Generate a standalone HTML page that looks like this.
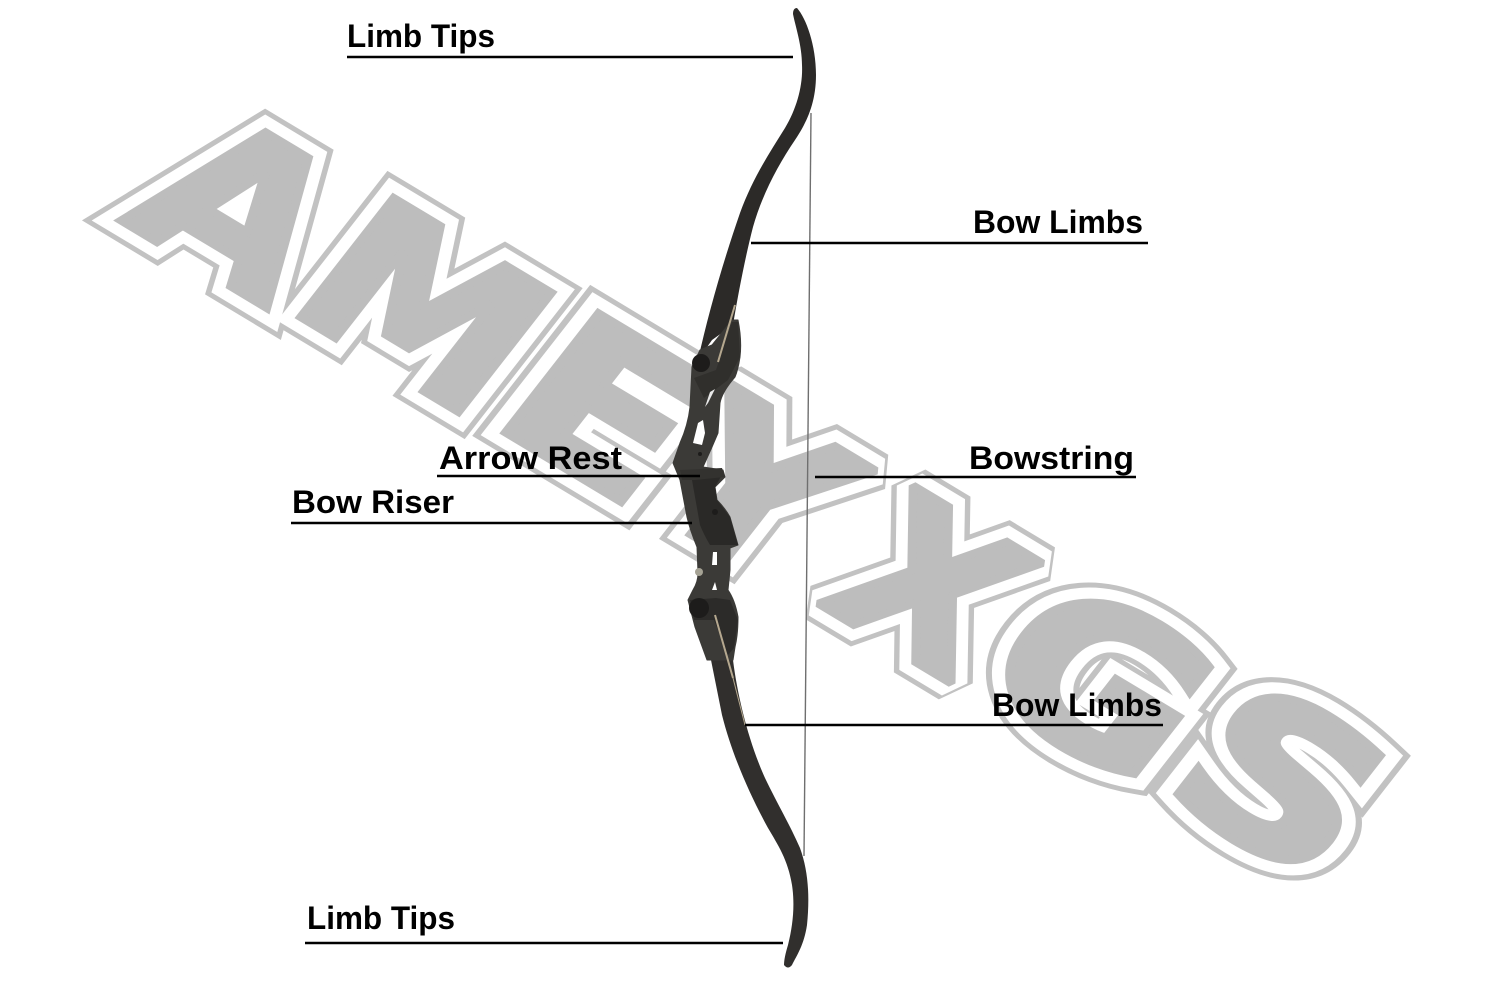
<!DOCTYPE html>
<html>
<head>
<meta charset="utf-8">
<title>Recurve Bow Parts</title>
<style>
html,body{margin:0;padding:0;background:#fff;}
svg{display:block;}
.wm text{font-family:"DejaVu Sans",sans-serif;font-weight:700;font-size:206px;text-anchor:middle;stroke-linejoin:miter;stroke-miterlimit:2;}
.l{font-family:"Liberation Sans",sans-serif;font-weight:700;font-size:32px;fill:#000;}
</style>
</head>
<body>
<svg width="1500" height="1000" viewBox="0 0 1500 1000" xmlns="http://www.w3.org/2000/svg">
<rect width="1500" height="1000" fill="#fff"/>

<!-- Watermark: outline layer -->
<g class="wm" transform="rotate(30)" fill="#c2c2c2" stroke="#c2c2c2" stroke-width="40">
<text transform="translate(300,132) rotate(1) skewX(-7) scale(1.08,1)">A</text>
<text transform="translate(511,126) rotate(1) skewX(-7) scale(1.1,1)">M</text>
<text transform="translate(719,123) rotate(1) skewX(-7) scale(1.25,1)">E</text>
<text transform="translate(887,118) rotate(1) skewX(-7) scale(1.12,1)">Y</text>
<text transform="translate(1088,115) rotate(1) skewX(-7) scale(1.03,1)">X</text>
<text transform="translate(1284,113) rotate(1) skewX(-7) scale(1.2,1)">G</text>
<text transform="translate(1490,108) rotate(1) skewX(-7) scale(1.26,1)">S</text>
</g>
<!-- Watermark: white gap layer -->
<g class="wm" transform="rotate(30)" fill="#fff" stroke="#fff" stroke-width="30">
<text transform="translate(300,132) rotate(1) skewX(-7) scale(1.08,1)">A</text>
<text transform="translate(511,126) rotate(1) skewX(-7) scale(1.1,1)">M</text>
<text transform="translate(719,123) rotate(1) skewX(-7) scale(1.25,1)">E</text>
<text transform="translate(887,118) rotate(1) skewX(-7) scale(1.12,1)">Y</text>
<text transform="translate(1088,115) rotate(1) skewX(-7) scale(1.03,1)">X</text>
<text transform="translate(1284,113) rotate(1) skewX(-7) scale(1.2,1)">G</text>
<text transform="translate(1490,108) rotate(1) skewX(-7) scale(1.26,1)">S</text>
</g>
<!-- Watermark: fill layer -->
<g class="wm" transform="rotate(30)" fill="#bdbdbd" stroke="#bdbdbd" stroke-width="8">
<text transform="translate(300,132) rotate(1) skewX(-7) scale(1.08,1)">A</text>
<text transform="translate(511,126) rotate(1) skewX(-7) scale(1.1,1)">M</text>
<text transform="translate(719,123) rotate(1) skewX(-7) scale(1.25,1)">E</text>
<text transform="translate(887,118) rotate(1) skewX(-7) scale(1.12,1)">Y</text>
<text transform="translate(1088,115) rotate(1) skewX(-7) scale(1.03,1)">X</text>
<text transform="translate(1284,113) rotate(1) skewX(-7) scale(1.2,1)">G</text>
<text transform="translate(1490,108) rotate(1) skewX(-7) scale(1.26,1)">S</text>
</g>

<!-- Bowstring -->
<line x1="811" y1="113" x2="804" y2="856" stroke="#6f6f6f" stroke-width="1.4"/>

<!-- Upper limb -->
<path d="M797,8 C806,18 816,45 816,75 C816,105 805,125 795,140 C778,165 762,195 753,227 C745,258 738,295 733,325 L712,340 L698,360 C708,315 722,265 740,213 C752,180 768,155 785,128 C797,108 803,85 802,65 C802,45 795,25 793,14 Q793,8 797,8 Z" fill="#2c2a28"/>
<!-- Lower limb -->
<path d="M707,640 L733,640 L733,660 C738,700 750,745 765,778 C778,805 790,825 800,848 C808,870 810,895 807,925 C804,945 797,955 792,965 Q788,970 784,965 Q784,958 788,945 C793,925 795,905 792,885 C788,860 778,845 768,828 C750,795 732,755 722,715 Z" fill="#312f2d"/>

<!-- Riser -->
<path d="M712,345 L732,320 L738,320 Q742,340 740,357 Q738,370 735,377 Q722,392 720,403 L718,433 Q715,440 712,447 L703,467 L723,470 L725,477 L715,487 L717,500 Q725,508 730,517 L738,545 L730,548 L730,570 L728,590 Q735,600 738,617 Q738,635 735,647 L733,660 L707,660 L695,627 L688,600 L693,590 Q698,582 698,573 L697,547 Q690,530 687,517 L680,480 Q676,470 673,463 L680,443 Q688,425 690,407 L692,367 L700,350 Z" fill="#3b3a37" stroke="#3b3a37" stroke-linejoin="round"/>
<!-- Grip -->
<path d="M692,480 L723,473 L715,487 L717,500 L730,517 L738,545 L710,545 Q704,535 700,525 Z" fill="#2a2927"/>
<!-- Shelf -->
<path d="M680,470 L722,468 L725,477 L695,480 L682,480 Z" fill="#33322f"/>
<!-- Pods -->
<path d="M694,378 L716,370 L732,322 L738,322 L740,357 L728,380 L704,398 Z" fill="#302f2c"/>
<path d="M690,600 L716,598 L730,600 L738,620 L734,648 L728,655 L714,620 L694,620 Z" fill="#2c2b29"/>
<!-- Windows -->
<path d="M693,443 L698,423 L703,420 L705,433 L702,445 Z" fill="#fff"/>
<path d="M705,407 L710,392 L715,389 L708,403 Z" fill="#e8e8e8"/>
<path d="M712,565 L713,552 L717,552 L717,565 Z" fill="#fff"/>
<path d="M712,590 L715,582 L717,590 Z" fill="#fff"/>
<!-- Knobs and pin -->
<circle cx="701" cy="363" r="9" fill="#1d1c1b"/>
<circle cx="699" cy="608" r="10" fill="#1d1c1b"/>
<circle cx="699" cy="572" r="4" fill="#a5a294"/>
<circle cx="700" cy="454" r="2" fill="#1d1c1b"/>
<circle cx="715" cy="512" r="3" fill="#1d1c1b"/>
<!-- Tan laminate stripes -->
<line x1="735" y1="305" x2="718" y2="362" stroke="#b5a88f" stroke-width="2"/>
<line x1="715" y1="615" x2="733" y2="678" stroke="#b5a88f" stroke-width="2"/>
<line x1="733" y1="678" x2="745" y2="725" stroke="#b5a88f" stroke-width="1"/>

<!-- Leader lines -->
<g stroke="#000" stroke-width="2.5">
<line x1="347" y1="57" x2="793" y2="57"/>
<line x1="751" y1="243" x2="1148" y2="243"/>
<line x1="815" y1="477" x2="1136" y2="477"/>
<line x1="437" y1="476" x2="700" y2="476"/>
<line x1="291" y1="523" x2="692" y2="523"/>
<line x1="745" y1="725" x2="1163" y2="725"/>
<line x1="305" y1="943" x2="783" y2="943"/>
</g>

<!-- Labels -->
<text class="l" x="347" y="47" textLength="148" lengthAdjust="spacingAndGlyphs">Limb Tips</text>
<text class="l" x="973" y="233" textLength="170" lengthAdjust="spacingAndGlyphs">Bow Limbs</text>
<text class="l" x="969" y="469" textLength="165" lengthAdjust="spacingAndGlyphs">Bowstring</text>
<text class="l" x="439" y="469" textLength="183" lengthAdjust="spacingAndGlyphs">Arrow Rest</text>
<text class="l" x="292" y="513" textLength="162" lengthAdjust="spacingAndGlyphs">Bow Riser</text>
<text class="l" x="992" y="716" textLength="170" lengthAdjust="spacingAndGlyphs">Bow Limbs</text>
<text class="l" x="307" y="929" textLength="148" lengthAdjust="spacingAndGlyphs">Limb Tips</text>
</svg>
</body>
</html>
